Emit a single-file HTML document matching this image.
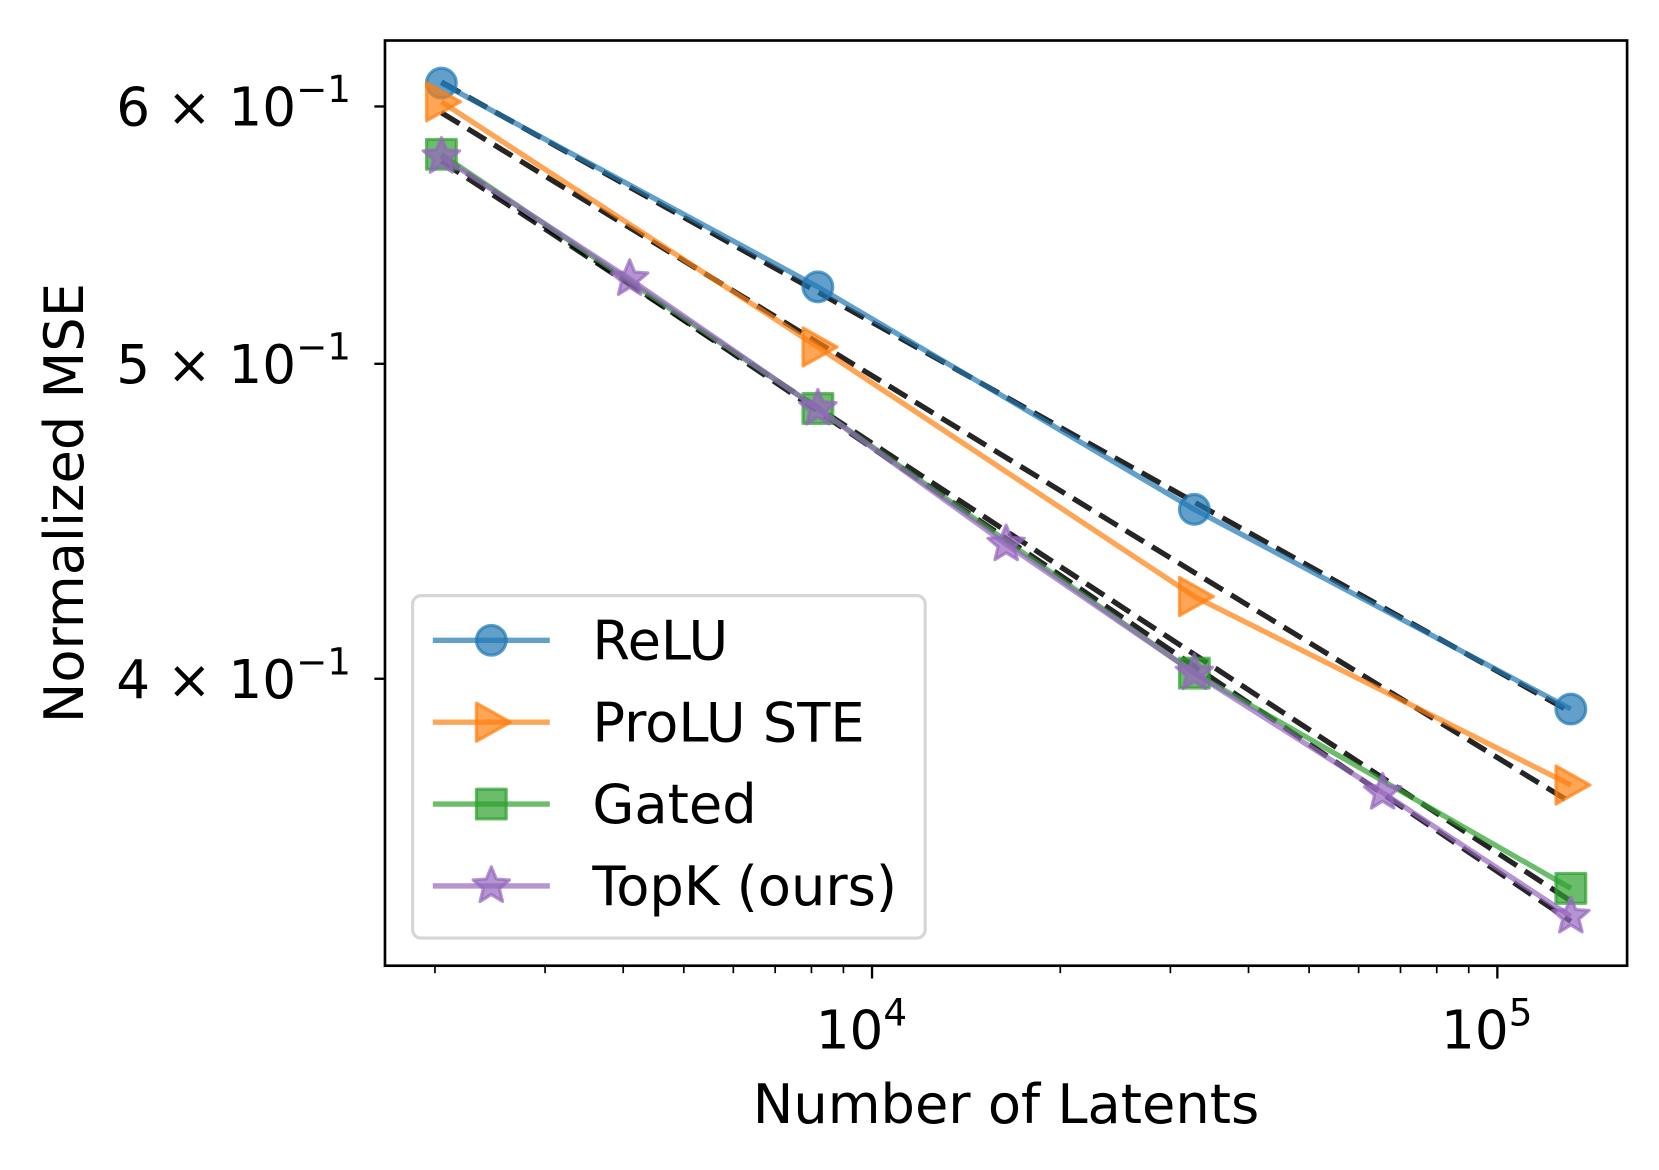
<!DOCTYPE html>
<html><head><meta charset="utf-8"><style>
html,body{margin:0;padding:0;background:#fff;}
svg{display:block;font-family:"DejaVu Sans","Liberation Sans",sans-serif;}
</style></head><body>
<svg id="chart" width="1659" height="1170" viewBox="0 0 1560 1100" xmlns="http://www.w3.org/2000/svg">
<g id="fits"></g>
<g id="series"></g>
<g id="axes"></g>
<g id="legend"></g>
</svg>
<script>
const seriesNames = ["ReLU","ProLU STE","Gated","TopK (ours)"];
const reluX = [2048,8192,32768,131072];
const reluY = [0.610,0.528,0.451,0.3915];
const proluX = [2048,8192,32768,131072];
const proluY = [0.602,0.506,0.424,0.371];
const gatedX = [2048,8192,32768,131072];
const gatedY = [0.580,0.4844,0.4016,0.3448];
const topkX = [2048,4096,8192,16384,32768,65536,131072];
const topkY = [0.579,0.531,0.4844,0.440,0.4016,0.369,0.338];
const yTickVals = [0.6,0.5,0.4];
const yTickMant = ["6","5","4"];
const xTickVals = [10000,100000];
const xTickExp = ["4","5"];

const NS="http://www.w3.org/2000/svg";
const L=362,R=1530,T=38,B=908;
function xs(v){return 820+(Math.log10(v)-4)*588;}
function ys(v){return 342-(Math.log10(v)-Math.log10(0.5))*3056;}
function mk(tag,attrs,parent){const e=document.createElementNS(NS,tag);for(const k in attrs)e.setAttribute(k,attrs[k]);parent.appendChild(e);return e;}
const colors=["#1f77b4","#ff7f0e","#2ca02c","#9467bd"];
const markers=["circle","tri","square","star"];
const allX=[reluX,proluX,gatedX,topkX], allY=[reluY,proluY,gatedY,topkY];

function marker(type,cx,cy,col,parent){
  let e;
  if(type==="circle") e=mk("circle",{cx:cx,cy:cy,r:14},parent);
  else if(type==="square") e=mk("rect",{x:cx-14,y:cy-14,width:28,height:28},parent);
  else if(type==="tri") e=mk("polygon",{points:`${cx-14},${cy-18} ${cx+18},${cy} ${cx-14},${cy+18}`},parent);
  else { let p=[];for(let i=0;i<10;i++){const a=-Math.PI/2+i*Math.PI/5;const r=i%2?8:18;p.push((cx+r*Math.cos(a)).toFixed(1)+","+(cy+r*Math.sin(a)).toFixed(1));} e=mk("polygon",{points:p.join(" ")},parent);}
  e.setAttribute("fill",col);e.setAttribute("fill-opacity","0.7");e.setAttribute("stroke",col);e.setAttribute("stroke-opacity","0.7");e.setAttribute("stroke-width","3");e.setAttribute("stroke-linejoin","round");
  return e;
}

const fits=document.getElementById("fits");
allX.forEach((X,s)=>{
  const Y=allY[s];const n=X.length;
  const lx=X.map(Math.log10),ly=Y.map(Math.log10);
  const mx=lx.reduce((a,b)=>a+b)/n,my=ly.reduce((a,b)=>a+b)/n;
  let num=0,den=0;for(let i=0;i<n;i++){num+=(lx[i]-mx)*(ly[i]-my);den+=(lx[i]-mx)**2;}
  const b=num/den,a=my-b*mx;
  const x0=X[0],x1=X[n-1];
  const ln=mk("line",{x1:xs(x0),y1:ys(10**(a+b*Math.log10(x0))),x2:xs(x1),y2:ys(10**(a+b*Math.log10(x1))),stroke:"#000","stroke-width":5,"stroke-dasharray":"20,9",opacity:0.85},fits);
  
  
});

const sg=document.getElementById("series");
allX.forEach((X,s)=>{
  const Y=allY[s];
  const pl=mk("polyline",{points:X.map((x,i)=>xs(x)+","+ys(Y[i])).join(" "),fill:"none",stroke:colors[s],"stroke-opacity":0.7,"stroke-width":5},sg);
  
  
  X.forEach((x,i)=>{
    const m=marker(markers[s],xs(x),ys(Y[i]),colors[s],sg);
    
    
  });
});

const ax=document.getElementById("axes");
const frame=mk("rect",{x:L,y:T,width:R-L,height:B-T,fill:"none",stroke:"#000","stroke-width":2.5},ax);


for(let d=1000;d<=100000;d*=10){for(let k=1;k<10;k++){const v=d*k;const x=xs(v);if(x<L||x>R)continue;
  const major=(k===1);
  mk("line",{x1:x,y1:B,x2:x,y2:B+(major?12:7),stroke:"#000","stroke-width":major?2.2:1.6},ax);}}
xTickVals.forEach((v,i)=>{
  const t=mk("text",{x:xs(v)-10,y:B+78,"font-size":50,"text-anchor":"middle"},ax);
  t.textContent="10";
  const sp=mk("tspan",{"font-size":35,dy:-22},t);sp.textContent=xTickExp[i];
  
  
});
yTickVals.forEach((v,i)=>{
  const y=ys(v);
  mk("line",{x1:L,y1:y,x2:L-10,y2:y,stroke:"#000","stroke-width":2.2},ax);
  const t=mk("text",{x:330,y:y+18,"font-size":50,"text-anchor":"end"},ax);
  t.textContent=yTickMant[i]+" \u00D7 10";
  const sp=mk("tspan",{"font-size":35,dy:-22},t);sp.textContent="\u22121";
  
  
});
const xl=mk("text",{x:946,y:1056,"font-size":51,"text-anchor":"middle"},ax);xl.textContent="Number of Latents";


const yl=mk("text",{x:0,y:0,"font-size":51,"text-anchor":"middle",transform:"translate(78,473) rotate(-90)"},ax);yl.textContent="Normalized MSE";



const lg=document.getElementById("legend");
mk("rect",{x:388,y:560,width:482,height:322,rx:8,fill:"#fff","fill-opacity":0.8,stroke:"#d6d6d6","stroke-width":3},lg);
seriesNames.forEach((nm,s)=>{
  const y=602+s*77;
  const g=mk("g",{},lg);
  
  
  mk("line",{x1:407,y1:y,x2:517,y2:y,stroke:colors[s],"stroke-opacity":0.7,"stroke-width":5},g);
  marker(markers[s],462,y,colors[s],g);
  const t=mk("text",{x:557,y:y+18,"font-size":51},g);t.textContent=nm;
});
</script>
</body></html>
